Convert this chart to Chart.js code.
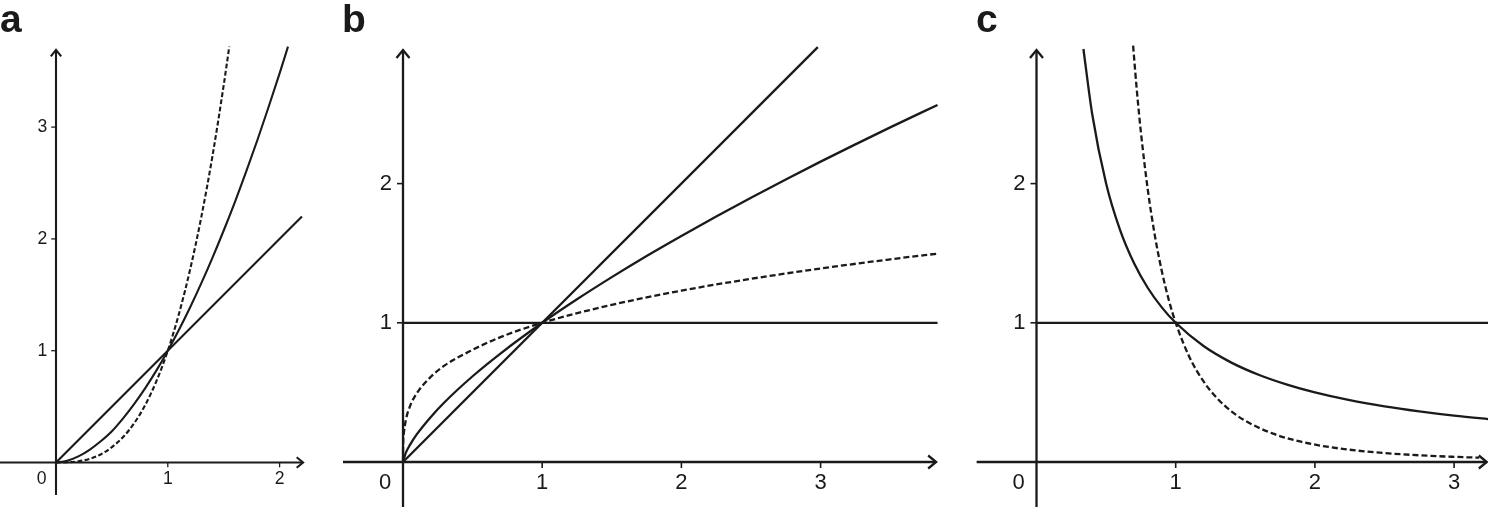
<!DOCTYPE html>
<html><head><meta charset="utf-8">
<script src="https://cdn.jsdelivr.net/npm/chart.js@4.4.0/dist/chart.umd.min.js"></script>
<style>
html,body{margin:0;padding:0;background:#fff;width:1488px;height:507px;overflow:hidden}
canvas{position:absolute;top:0}
.lbl{position:absolute;top:0;font:bold 39px "Liberation Sans",Arial,sans-serif;line-height:39px;color:#1a1a1a;z-index:5}
</style></head><body>
<div class="lbl" style="left:0px;top:-1px">a</div>
<div class="lbl" style="left:342px;top:-1px">b</div>
<div class="lbl" style="left:976px;top:-1px">c</div>
<canvas id="ca" style="left:0px" width="330" height="507"></canvas>
<canvas id="cb" style="left:330px" width="640" height="507"></canvas>
<canvas id="cc" style="left:970px" width="518" height="507"></canvas>
<script>
// ---------- DATA ----------
// Panel a
const aLineX = [0, 2.2];
const aLineY = [0, 2.2];
const aSolidX = [0, 0.1, 0.2, 0.3, 0.4, 0.5, 0.6, 0.7, 0.8, 0.9, 1.0, 1.1, 1.2, 1.3, 1.4, 1.5, 1.6, 1.7, 1.8, 1.9, 2.0, 2.075];
const aSolidY = [0, 0.016, 0.055, 0.114, 0.19, 0.28, 0.395, 0.525, 0.668, 0.826, 1.0, 1.187, 1.388, 1.604, 1.833, 2.075, 2.33, 2.6, 2.88, 3.175, 3.48, 3.72];
const aDashX = [0, 0.1, 0.2, 0.3, 0.4, 0.5, 0.6, 0.7, 0.8, 0.9, 1.0, 1.1, 1.2, 1.3, 1.4, 1.5, 1.55];
const aDashY = [0, 0.002, 0.011, 0.033, 0.072, 0.138, 0.228, 0.352, 0.518, 0.732, 1.0, 1.331, 1.728, 2.197, 2.744, 3.375, 3.72];
const aXTicks = [1, 2];
const aYTicks = [1, 2, 3];

// Panel b
const bFlatX = [0, 3.84];
const bFlatY = [1, 1];
const bLineX = [0, 2.98];
const bLineY = [0, 2.98];
const bSolidX = [0, 0.02, 0.05, 0.1, 0.2, 0.3, 0.5, 0.7, 1.0, 1.25, 1.5, 1.75, 2.0, 2.25, 2.5, 2.75, 3.0, 3.25, 3.5, 3.84];
const bSolidY = [0, 0.065, 0.123, 0.2, 0.324, 0.431, 0.616, 0.779, 1.0, 1.169, 1.328, 1.48, 1.624, 1.764, 1.899, 2.03, 2.158, 2.282, 2.404, 2.565];
const bDashX = [0, 0.001, 0.005, 0.02, 0.05, 0.1, 0.2, 0.3, 0.5, 0.7, 1.0, 1.5, 2.0, 2.5, 3.0, 3.5, 3.84];
const bDashY = [0, 0.13, 0.2, 0.3, 0.4, 0.495, 0.612, 0.694, 0.806, 0.897, 1.0, 1.129, 1.231, 1.316, 1.39, 1.456, 1.497];
const bXTicks = [1, 2, 3];
const bYTicks = [1, 2];

// Panel c
const cFlatX = [0, 3.3];
const cFlatY = [1, 1];
const cSolidX = [0.337, 0.4, 0.5, 0.6, 0.7, 0.8, 0.9, 1.0, 1.2, 1.4, 1.6, 1.8, 2.0, 2.25, 2.5, 2.75, 3.0, 3.3];
const cSolidY = [2.967, 2.5, 2.0, 1.667, 1.429, 1.25, 1.111, 1.0, 0.833, 0.714, 0.625, 0.556, 0.5, 0.444, 0.4, 0.364, 0.333, 0.303];
const cDashX = [0.694, 0.72, 0.75, 0.8, 0.85, 0.9, 0.95, 1.0, 1.1, 1.2, 1.3, 1.4, 1.5, 1.7, 1.9, 2.1, 2.4, 2.7, 3.0, 3.18];
const cDashY = [2.991, 2.679, 2.37, 1.953, 1.628, 1.372, 1.166, 1.0, 0.751, 0.579, 0.455, 0.364, 0.296, 0.2035, 0.1458, 0.108, 0.0723, 0.0508, 0.037, 0.031];
const cXTicks = [1, 2, 3];
const cYTicks = [1, 2];

// ---------- LAYOUT / STYLE ----------
const INK = '#1a1a1a';
const layouts = {
  a: {w:330, h:507, ox:56, oy:462.5, unit:111.8, s:0.8, lw:2.1, xFrom:-0.51, xTo:2.21, yFrom:-0.29, yTo:3.69},
  b: {w:640, h:507, ox:73, oy:462, unit:139.2, s:1.0, lw:2.3, xFrom:-0.431, xTo:3.83, yFrom:-0.33, yTo:2.96},
  c: {w:518, h:507, ox:66.5, oy:462, unit:139.2, s:1.0, lw:2.3, xFrom:-0.43, xTo:3.235, yFrom:-0.33, yTo:2.96}
};

function pts(xs, ys){ return xs.map((x,i)=>({x:x, y:ys[i]})); }

function ds(xs, ys, dashed, L){
  const s = L.s;
  return {
    data: pts(xs, ys),
    borderColor: INK,
    borderWidth: L.lw,
    borderDash: dashed ? [6*s, 3*s] : [],
    pointRadius: 0,
    fill: false,
    cubicInterpolationMode: 'monotone',
    tension: 0.4
  };
}

function axesPlugin(L, xTicks, yTicks){
  return {
    id: 'customAxes',
    beforeDatasetsDraw(chart){
      const ctx = chart.ctx, xs = chart.scales.x, ys = chart.scales.y;
      const s = L.s;
      const X0 = xs.getPixelForValue(0), Y0 = ys.getPixelForValue(0);
      ctx.save();
      ctx.strokeStyle = INK; ctx.fillStyle = INK;
      ctx.lineWidth = L.lw;
      ctx.lineCap = 'butt'; ctx.lineJoin = 'miter';
      // x axis
      const xa = xs.getPixelForValue(L.xFrom), xb = xs.getPixelForValue(L.xTo);
      ctx.beginPath(); ctx.moveTo(xa, Y0); ctx.lineTo(xb, Y0); ctx.stroke();
      ctx.beginPath(); ctx.moveTo(xb - 8*s, Y0 - 6.5*s); ctx.lineTo(xb, Y0); ctx.lineTo(xb - 8*s, Y0 + 6.5*s); ctx.stroke();
      // y axis
      const ya = ys.getPixelForValue(L.yFrom), yb = ys.getPixelForValue(L.yTo);
      ctx.beginPath(); ctx.moveTo(X0, ya); ctx.lineTo(X0, yb); ctx.stroke();
      ctx.beginPath(); ctx.moveTo(X0 - 6.5*s, yb + 8*s); ctx.lineTo(X0, yb); ctx.lineTo(X0 + 6.5*s, yb + 8*s); ctx.stroke();
      // ticks
      ctx.lineWidth = 1.6*s;
      xTicks.forEach(v => { const px = xs.getPixelForValue(v); ctx.beginPath(); ctx.moveTo(px, Y0); ctx.lineTo(px, Y0 + 6*s); ctx.stroke(); });
      yTicks.forEach(v => { const py = ys.getPixelForValue(v); ctx.beginPath(); ctx.moveTo(X0 - 6*s, py); ctx.lineTo(X0, py); ctx.stroke(); });
      // labels
      ctx.font = (22*s) + 'px "Liberation Sans", Arial, sans-serif';
      ctx.textBaseline = 'middle';
      ctx.textAlign = 'center';
      xTicks.forEach(v => ctx.fillText(String(v), xs.getPixelForValue(v), Y0 + 21*s));
      ctx.fillText('0', X0 - 18*s, Y0 + 21*s);
      ctx.textAlign = 'right';
      yTicks.forEach(v => ctx.fillText(String(v), X0 - 11*s, ys.getPixelForValue(v)));
      ctx.restore();
    }
  };
}

function makeChart(id, L, datasets, xTicks, yTicks){
  const xmin = -L.ox / L.unit, xmax = (L.w - L.ox) / L.unit;
  const ymax = L.oy / L.unit, ymin = -(L.h - L.oy) / L.unit;
  return new Chart(document.getElementById(id), {
    type: 'line',
    data: { datasets: datasets },
    options: {
      responsive: false, animation: false, devicePixelRatio: 1, events: [],
      layout: { padding: 0 },
      plugins: { legend: {display:false}, tooltip: {enabled:false}, title: {display:false} },
      scales: {
        x: { type:'linear', min:xmin, max:xmax, display:false },
        y: { type:'linear', min:ymin, max:ymax, display:false }
      }
    },
    plugins: [axesPlugin(L, xTicks, yTicks)]
  });
}

const La = layouts.a, Lb = layouts.b, Lc = layouts.c;
makeChart('ca', La, [
  ds(aLineX, aLineY, false, La),
  ds(aSolidX, aSolidY, false, La),
  ds(aDashX, aDashY, true, La)
], aXTicks, aYTicks);
makeChart('cb', Lb, [
  ds(bFlatX, bFlatY, false, Lb),
  ds(bLineX, bLineY, false, Lb),
  ds(bSolidX, bSolidY, false, Lb),
  ds(bDashX, bDashY, true, Lb)
], bXTicks, bYTicks);
makeChart('cc', Lc, [
  ds(cFlatX, cFlatY, false, Lc),
  ds(cSolidX, cSolidY, false, Lc),
  ds(cDashX, cDashY, true, Lc)
], cXTicks, cYTicks);
</script>
</body></html>
